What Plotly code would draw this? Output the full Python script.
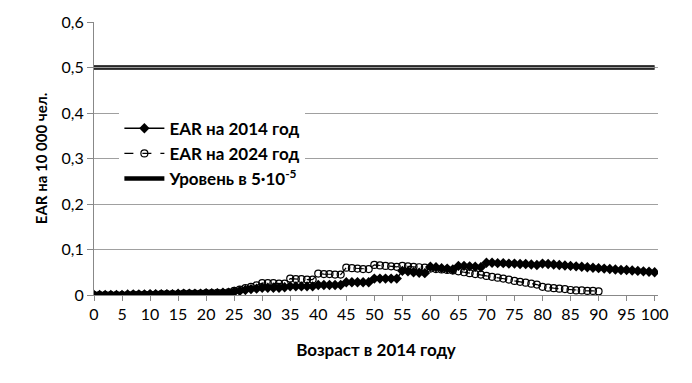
import plotly.graph_objects as go

ages_2014 = list(range(0, 101))
ear_2014 = [
    0.000, 0.000, 0.000, 0.000, 0.000,
    0.000, 0.001, 0.001, 0.001, 0.001,
    0.002, 0.002, 0.002, 0.002, 0.002,
    0.003, 0.003, 0.003, 0.003, 0.003,
    0.004, 0.004, 0.004, 0.005, 0.005,
    0.007, 0.009, 0.011, 0.013, 0.014,
    0.016, 0.016, 0.016, 0.016, 0.017,
    0.019, 0.019, 0.019, 0.019, 0.019,
    0.022, 0.022, 0.022, 0.022, 0.022,
    0.028, 0.028, 0.028, 0.028, 0.028,
    0.036, 0.036, 0.036, 0.036, 0.036,
    0.053, 0.052, 0.050, 0.049, 0.048,
    0.062, 0.061, 0.059, 0.058, 0.056,
    0.064, 0.064, 0.063, 0.062, 0.061,
    0.071, 0.071, 0.070, 0.070, 0.069,
    0.069, 0.068, 0.068, 0.067, 0.066,
    0.069, 0.068, 0.067, 0.066, 0.065,
    0.064, 0.063, 0.062, 0.061, 0.060,
    0.059, 0.058, 0.057, 0.056, 0.055,
    0.055, 0.054, 0.053, 0.052, 0.051,
    0.050,
]

ages_2024 = list(range(0, 91))
ear_2024 = [
    0.000, 0.000, 0.000, 0.000, 0.000,
    0.000, 0.000, 0.001, 0.001, 0.001,
    0.001, 0.001, 0.002, 0.002, 0.002,
    0.002, 0.003, 0.003, 0.003, 0.003,
    0.004, 0.004, 0.005, 0.005, 0.006,
    0.009, 0.012, 0.015, 0.018, 0.021,
    0.026, 0.026, 0.026, 0.025, 0.025,
    0.036, 0.035, 0.035, 0.034, 0.034,
    0.047, 0.046, 0.046, 0.045, 0.045,
    0.060, 0.059, 0.058, 0.057, 0.057,
    0.066, 0.065, 0.064, 0.063, 0.062,
    0.064, 0.063, 0.062, 0.061, 0.060,
    0.058, 0.057, 0.056, 0.055, 0.054,
    0.052, 0.050, 0.048, 0.046, 0.045,
    0.042, 0.040, 0.038, 0.036, 0.034,
    0.031, 0.029, 0.027, 0.025, 0.023,
    0.018, 0.016, 0.015, 0.014, 0.013,
    0.011, 0.010, 0.010, 0.009, 0.009,
    0.008,
]

level_x = [0, 100]
level_y = [0.5, 0.5]

x_ticks = list(range(0, 101, 5))
y_ticks = [0, 0.1, 0.2, 0.3, 0.4, 0.5, 0.6]
y_tick_labels = ["0", "0,1", "0,2", "0,3", "0,4", "0,5", "0,6"]

FONT = "Lato, 'Open Sans', sans-serif"

fig = go.Figure()

fig.add_trace(go.Scatter(
    x=level_x, y=level_y, mode="lines", name="Уровень в 5·10<sup>-5</sup>",
    line=dict(color="black", width=4.5), legendrank=3, legendgroup="lvl",
))
fig.add_trace(go.Scatter(
    x=level_x, y=level_y, mode="lines", showlegend=False,
    line=dict(color="#9a9a9a", width=1.5), legendgroup="lvl", hoverinfo="skip",
))
fig.add_trace(go.Scatter(
    x=ages_2014, y=ear_2014, mode="lines+markers", name="EAR на 2014 год",
    line=dict(color="black", width=1.5),
    marker=dict(symbol="diamond", size=8, color="black"),
    legendrank=1,
))
fig.add_trace(go.Scatter(
    x=ages_2024, y=ear_2024, mode="lines+markers", name="EAR на 2024 год",
    line=dict(color="black", width=1.2, dash="dash"),
    marker=dict(symbol="circle-open", size=7, color="black", line=dict(width=1.2)),
    legendrank=2,
))

fig.update_layout(
    width=692, height=383,
    margin=dict(l=86, r=42, t=14, b=96),
    paper_bgcolor="white", plot_bgcolor="white",
    separators=", ",
    font=dict(family=FONT, size=16, color="black"),
    showlegend=True,
    legend=dict(
        x=0.045, y=0.675, xanchor="left", yanchor="top",
        bgcolor="rgba(255,255,255,1)", borderwidth=0,
        font=dict(family=FONT, size=17, color="black", weight="bold"),
        itemwidth=40, tracegroupgap=0,
    ),
    xaxis=dict(
        range=[0, 100.6], tickmode="array", tickvals=x_ticks,
        ticks="outside", ticklen=5, tickcolor="#888888",
        showline=True, linecolor="#888888", linewidth=1,
        showgrid=False, zeroline=False, automargin=False,
        tickfont=dict(size=16),
        title=dict(text="<b>Возраст в 2014 году</b>", font=dict(size=17), standoff=21),
    ),
    yaxis=dict(
        range=[0, 0.6], tickmode="array", tickvals=y_ticks, ticktext=y_tick_labels,
        ticks="outside", ticklen=6, tickcolor="#888888",
        showline=True, linecolor="#888888", linewidth=1,
        showgrid=True, gridcolor="#a0a0a0", gridwidth=1,
        zeroline=False, automargin=False,
        tickfont=dict(size=16),
        title=dict(text="<b>EAR на 10 000 чел.</b>", font=dict(size=15), standoff=10),
    ),
)

fig.write_html("out.html")
